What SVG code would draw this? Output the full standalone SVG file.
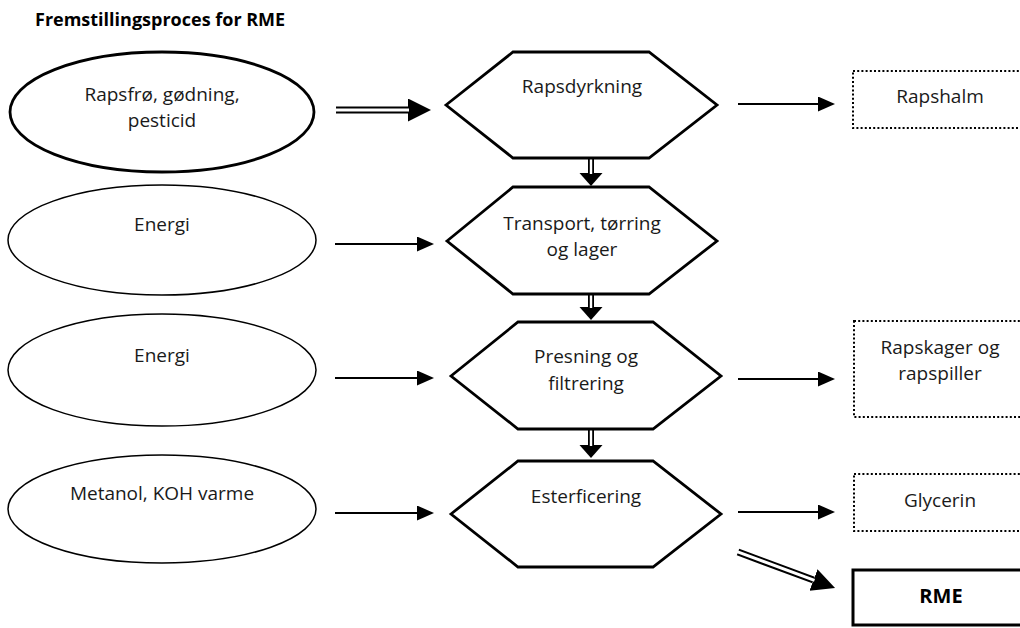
<svg xmlns="http://www.w3.org/2000/svg" width="1020" height="628" viewBox="0 0 1020 628">
<style>
text{font-family:"Open Sans","Noto Sans","Liberation Sans",sans-serif;font-size:19px;fill:#1a1a1a;text-anchor:middle}
.title{font-size:18px;font-weight:bold;text-anchor:start;fill:#000}
.bold{font-weight:bold;fill:#000;font-size:20px}
.ell{fill:#fff;stroke:#000;stroke-width:1.5}
.ell.thick{stroke-width:2.8}
.hex{fill:#fff;stroke:#000;stroke-width:2.8;stroke-linejoin:miter}
.dot{fill:#fff;stroke:#000;stroke-width:2;stroke-dasharray:2 2.2}
.solid{fill:#fff;stroke:#000;stroke-width:3}
.single{stroke:#000;stroke-width:2;fill:none}
.dblo{stroke:#000;stroke-width:7;fill:none}
.dbli{stroke:#fff;stroke-width:3;fill:none}
.dblvo{stroke:#000;stroke-width:6;fill:none}
.dblvi{stroke:#fff;stroke-width:2.4;fill:none}
</style>
<defs>
<marker id="arr" markerUnits="userSpaceOnUse" markerWidth="18" markerHeight="16" refX="0" refY="7.5" orient="auto"><path d="M0,0 L17,7.5 L0,15 z" fill="#000"/></marker>
<marker id="arrBig" markerUnits="userSpaceOnUse" markerWidth="24" markerHeight="24" refX="0" refY="11.5" orient="auto"><path d="M0,0 L23,11.5 L0,23 z" fill="#000"/></marker>
<marker id="arrV" markerUnits="userSpaceOnUse" markerWidth="14" markerHeight="24" refX="0" refY="11.5" orient="auto"><path d="M0,0 L13,11.5 L0,23 z" fill="#000"/></marker>
</defs>
<rect width="1020" height="628" fill="#fff"/>
<text class="title" x="35" y="26">Fremstillingsproces for RME</text>

<g id="in1"><ellipse class="ell thick" cx="162" cy="112" rx="152" ry="60"/><text x="162" y="101">Rapsfrø, gødning,</text><text x="162" y="127">pesticid</text></g>
<g id="in2"><ellipse class="ell" cx="162" cy="240" rx="154" ry="55"/><text x="162" y="231">Energi</text></g>
<g id="in3"><ellipse class="ell" cx="162" cy="370" rx="154" ry="56"/><text x="162" y="362">Energi</text></g>
<g id="in4"><ellipse class="ell" cx="162" cy="509" rx="154" ry="54"/><text x="162" y="500">Metanol, KOH varme</text></g>

<g id="p1"><polygon class="hex" points="446,105 513,52 649,52 717,105 649,158 513,158"/><text x="582" y="93">Rapsdyrkning</text></g>
<g id="p2"><polygon class="hex" points="447,241 513,187 649,187 717,241 649,294 513,294"/><text x="582" y="230">Transport, tørring</text><text x="582" y="256">og lager</text></g>
<g id="p3"><polygon class="hex" points="451,376 518,322 653,322 721,376 653,429 518,429"/><text x="586" y="363">Presning og</text><text x="586" y="390">filtrering</text></g>
<g id="p4"><polygon class="hex" points="451,514 518,461 653,461 721,514 653,567 518,567"/><text x="586" y="503">Esterficering</text></g>

<g id="o1"><rect class="dot" x="853" y="71" width="180" height="57"/><text x="940" y="103">Rapshalm</text></g>
<g id="o2"><rect class="dot" x="854" y="321" width="180" height="96"/><text x="940" y="354">Rapskager og</text><text x="940" y="380">rapspiller</text></g>
<g id="o3"><rect class="dot" x="854" y="474" width="180" height="57"/><text x="940" y="507">Glycerin</text></g>
<g id="o4"><rect class="solid" x="853" y="570" width="180" height="55"/><text class="bold" x="941" y="603">RME</text></g>

<g id="connectors">
<line class="dblo" x1="336" y1="110" x2="408" y2="110" marker-end="url(#arrBig)"/>
<line class="dbli" x1="335" y1="110" x2="409" y2="110"/>
<line class="single" x1="738" y1="104" x2="818" y2="104" marker-end="url(#arr)"/>
<line class="single" x1="335" y1="244" x2="417" y2="244" marker-end="url(#arr)"/>
<line class="single" x1="335" y1="378" x2="417" y2="378" marker-end="url(#arr)"/>
<line class="single" x1="738" y1="379" x2="818" y2="379" marker-end="url(#arr)"/>
<line class="single" x1="335" y1="513" x2="417" y2="513" marker-end="url(#arr)"/>
<line class="single" x1="738" y1="512" x2="818" y2="512" marker-end="url(#arr)"/>
<line class="dblvo" x1="591" y1="158" x2="591" y2="173" marker-end="url(#arrV)"/>
<line class="dblvi" x1="591" y1="159.5" x2="591" y2="174"/>
<line class="dblvo" x1="591" y1="294" x2="591" y2="307" marker-end="url(#arrV)"/>
<line class="dblvi" x1="591" y1="295.5" x2="591" y2="308"/>
<line class="dblvo" x1="591" y1="429" x2="591" y2="445" marker-end="url(#arrV)"/>
<line class="dblvi" x1="591" y1="430.5" x2="591" y2="446"/>
<line class="dblo" x1="738" y1="552" x2="813.5" y2="580" marker-end="url(#arrBig)"/>
<line class="dbli" x1="737" y1="551.6" x2="814.5" y2="580.4"/>
</g>
</svg>
